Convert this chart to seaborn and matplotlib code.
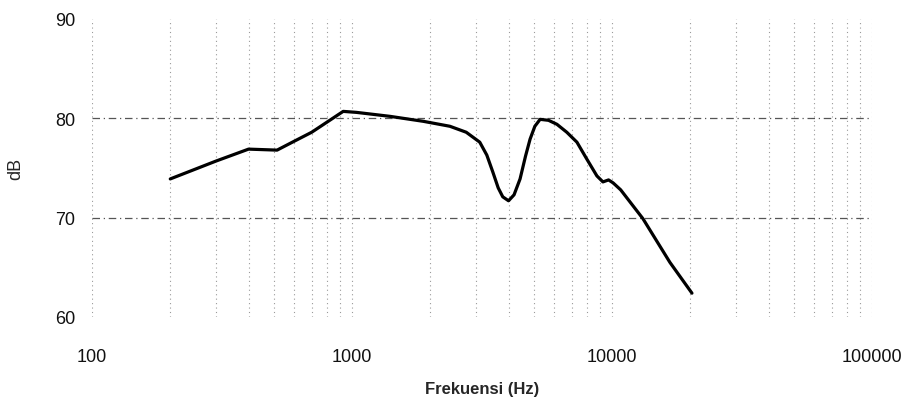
import matplotlib
matplotlib.use("Agg")
import matplotlib.pyplot as plt
import matplotlib.ticker as mticker
import seaborn as sns
import pandas as pd

freq_hz = [200, 300, 400, 515, 600, 700, 810, 925, 1040, 1400, 1880, 2380,
           2750, 3100, 3300, 3480, 3650, 3800, 4000, 4200, 4430, 4650, 4840,
           5050, 5290, 5700, 6140, 6700, 7330, 8000, 8750, 9230, 9700, 10100,
           10800, 13150, 16700, 20300]
level_db = [73.9, 75.7, 76.9, 76.8, 77.7, 78.6, 79.7, 80.7, 80.6, 80.2, 79.7, 79.2,
            78.6, 77.6, 76.3, 74.6, 73.0, 72.1, 71.7, 72.3, 73.9, 76.2, 77.9,
            79.2, 79.9, 79.8, 79.4, 78.6, 77.6, 75.9, 74.2, 73.6, 73.8, 73.5,
            72.8, 69.9, 65.5, 62.4]
x_ticks = [100, 1000, 10000, 100000]
y_ticks = [60, 70, 80, 90]

df = pd.DataFrame({"Frekuensi (Hz)": freq_hz, "dB": level_db})

sns.set_theme(style="white")
plt.rcParams["font.family"] = ["Liberation Sans", "DejaVu Sans"]

fig = plt.figure(figsize=(9.13, 4.06), dpi=100)
ax = fig.add_axes([92 / 913, 88 / 406, 780 / 913, 298 / 406])

sns.lineplot(data=df, x="Frekuensi (Hz)", y="dB", ax=ax, color="black",
             linewidth=2.3, sort=True)

ax.set_xscale("log")
ax.set_xlim(100, 100000)
ax.set_ylim(60, 90)
ax.set_xticks(x_ticks)
ax.set_xticklabels([str(v) for v in x_ticks])
ax.set_yticks(y_ticks)
ax.set_yticklabels([str(v) for v in y_ticks])
ax.xaxis.set_minor_locator(mticker.LogLocator(base=10, subs=range(2, 10)))
ax.xaxis.set_minor_formatter(mticker.NullFormatter())

ax.tick_params(axis="x", which="both", length=0, pad=22, labelsize=13, colors="#111111")
ax.tick_params(axis="y", length=0, pad=12, labelsize=13, colors="#111111")

for s in ax.spines.values():
    s.set_visible(False)

ax.grid(False)
ax.xaxis.grid(True, which="minor", linestyle=(0, (1, 3)), color="#9a9a9a", linewidth=0.8)
ax.xaxis.grid(True, which="major", linestyle=(0, (1, 3)), color="#9a9a9a", linewidth=0.8)
ax.yaxis.grid(True, which="major", linestyle=(0, (6, 3, 1, 3)), color="#555555", linewidth=0.9)
for val, gl in zip(y_ticks, ax.yaxis.get_gridlines()):
    if val in (60, 90):
        gl.set_visible(False)
ax.set_axisbelow(True)

ax.set_xlabel("Frekuensi (Hz)", fontsize=12, fontweight="bold", labelpad=12)
ax.set_ylabel("dB", fontsize=13, labelpad=22)

fig.savefig("out.png", dpi=100)
